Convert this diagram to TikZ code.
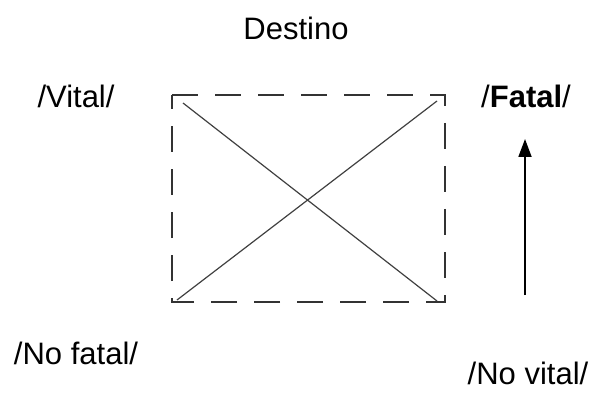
\documentclass[tikz,border=0pt]{standalone}
\usepackage{fontspec}
\setmainfont{Liberation Sans}
\usetikzlibrary{arrows.meta}
\begin{document}
\begin{tikzpicture}[x=1pt,y=-1pt,
  lbl/.style={inner sep=0pt, font=\fontsize{31}{35}\selectfont},
  box/.style={draw=black!80, line width=1.8pt, dash pattern=on 26pt off 17pt},
  diag/.style={draw=black!75, line width=1.2pt},
  arr/.style={draw=black, line width=1.8pt, -{Triangle[length=18pt,width=13pt]}}]
\useasboundingbox (0,0) rectangle (596,403);
\node[lbl, anchor=base] (destino) at (296,40) {Destino};
\node[lbl, anchor=base] (vital) at (76,108) {/Vital/};
\node[lbl, anchor=base] (fatal) at (526,108) {/\textbf{Fatal}/};
\node[lbl, anchor=base] (nofatal) at (76,364) {/No fatal/};
\node[lbl, anchor=base] (novital) at (528,384) {/No vital/};
\coordinate (tl) at (172,95);
\coordinate (tr) at (445,95);
\coordinate (br) at (445,302);
\coordinate (bl) at (172,302);
\draw[box] (tl) -- (tr) -- (br) -- (bl) -- cycle;
\coordinate (d1s) at (183,103);
\coordinate (d1e) at (437,301);
\coordinate (d2s) at (177,300);
\coordinate (d2e) at (437,101);
\draw[diag] (d1s) -- (d1e);
\draw[diag] (d2s) -- (d2e);
\coordinate (abot) at (525,295);
\coordinate (atop) at (525,139);
\draw[arr] (abot) -- (atop);
\end{tikzpicture}
\end{document}
